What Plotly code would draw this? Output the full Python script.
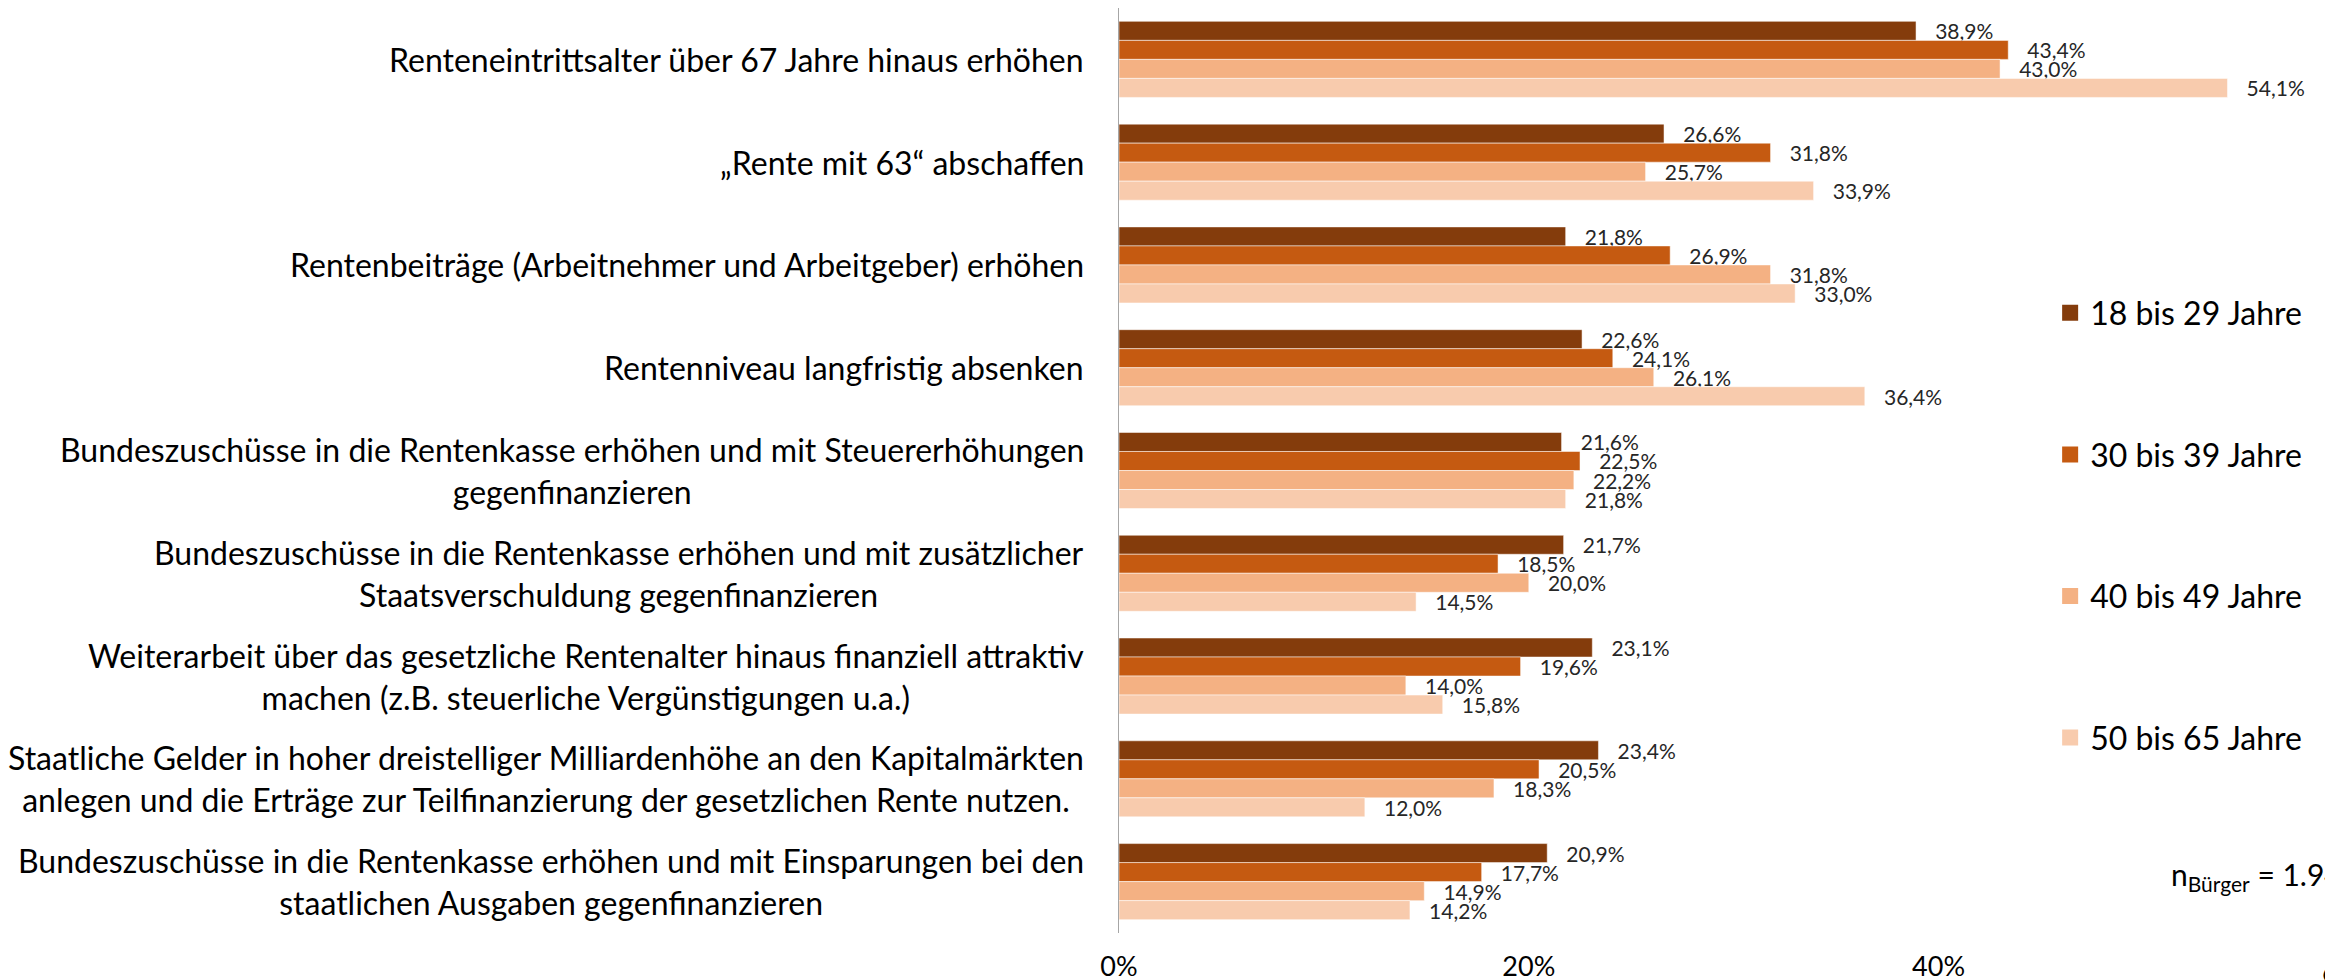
import plotly.graph_objects as go

categories = [
    "Renteneintrittsalter über 67 Jahre hinaus erhöhen",
    "„Rente mit 63“ abschaffen",
    "Rentenbeiträge (Arbeitnehmer und Arbeitgeber) erhöhen",
    "Rentenniveau langfristig absenken",
    "Bundeszuschüsse in die Rentenkasse erhöhen und mit Steuererhöhungen<br>gegenfinanzieren",
    "Bundeszuschüsse in die Rentenkasse erhöhen und mit zusätzlicher<br>Staatsverschuldung gegenfinanzieren",
    "Weiterarbeit über das gesetzliche Rentenalter hinaus finanziell attraktiv<br>machen (z.B. steuerliche Vergünstigungen u.a.)",
    "Staatliche Gelder in hoher dreistelliger Milliardenhöhe an den Kapitalmärkten<br>anlegen und die Erträge zur Teilfinanzierung der gesetzlichen Rente nutzen.",
    "Bundeszuschüsse in die Rentenkasse erhöhen und mit Einsparungen bei den<br>staatlichen Ausgaben gegenfinanzieren",
]

series_names = ["18 bis 29 Jahre", "30 bis 39 Jahre", "40 bis 49 Jahre", "50 bis 65 Jahre"]
age_18_29 = [38.9, 26.6, 21.8, 22.6, 21.6, 21.7, 23.1, 23.4, 20.9]
age_30_39 = [43.4, 31.8, 26.9, 24.1, 22.5, 18.5, 19.6, 20.5, 17.7]
age_40_49 = [43.0, 25.7, 31.8, 26.1, 22.2, 20.0, 14.0, 18.3, 14.9]
age_50_65 = [54.1, 33.9, 33.0, 36.4, 21.8, 14.5, 15.8, 12.0, 14.2]
series_values = [age_18_29, age_30_39, age_40_49, age_50_65]
colors = ["#843C0C", "#C55A11", "#F4B183", "#F8CBAD"]

x_ticks = [0, 20, 40]
x_tick_labels = ["0%", "20%", "40%"]
x_max_visible = 59.25
n_label = "n<sub>Bürger</sub> = 1.94"

FONT = "Lato, 'Open Sans', sans-serif"

fig = go.Figure()
for name, vals, col in zip(series_names, series_values, colors):
    fig.add_trace(go.Bar(
        y=categories, x=vals, name=name, orientation="h",
        marker=dict(color=col, line=dict(color="rgba(255,255,255,0.5)", width=1)),
        texttemplate="\u00a0\u00a0\u00a0%{x:.1f}%", textposition="outside",
        constraintext="none",
        textfont=dict(size=21, color="#262626", family=FONT),
        cliponaxis=False, showlegend=False, legendgroup=name,
    ))
    fig.add_trace(go.Scatter(
        x=[None], y=[None], mode="markers", name=name, legendgroup=name,
        marker=dict(symbol="square", size=18, color=col),
    ))

for c in categories:
    fig.add_annotation(
        x=0, xref="paper", y=c, yref="y", text=c, showarrow=False,
        xanchor="right", yanchor="middle", align="center", xshift=-33,
        font=dict(size=32, color="#000000", family=FONT),
    )

fig.add_annotation(
    x=60 / x_max_visible, xref="paper", y=0, yref="paper", text="60%",
    showarrow=False, xanchor="center", yanchor="top", yshift=-20,
    font=dict(size=27, color="#000000", family=FONT),
)
fig.add_annotation(
    x=0.865, xref="paper", y=0.062, yref="paper", text=n_label,
    showarrow=False, xanchor="left", yanchor="middle",
    font=dict(size=30, color="#000000", family=FONT),
)

fig.update_layout(
    width=2325, height=972,
    margin=dict(l=1111, r=0, t=0, b=47),
    barmode="group", bargap=0.26, bargroupgap=0,
    separators=",.",
    plot_bgcolor="white", paper_bgcolor="white",
    font=dict(family=FONT, color="#000000"),
    legend=dict(
        x=0.767, xanchor="left", y=0.70, yanchor="top",
        traceorder="grouped", tracegroupgap=97,
        font=dict(size=32, color="#000000", family=FONT),
        bgcolor="rgba(0,0,0,0)",
    ),
    xaxis=dict(
        range=[0, x_max_visible], tickvals=x_ticks, ticktext=x_tick_labels,
        showgrid=False, zeroline=False, showline=False, ticks="",
        tickfont=dict(size=27, color="#000000", family=FONT),
        ticklabelstandoff=15, automargin=False,
    ),
    yaxis=dict(
        type="category", categoryarray=categories, categoryorder="array",
        range=[len(categories) - 0.5, -0.5],
        showticklabels=False, ticks="", showgrid=False, zeroline=False,
        showline=True, linecolor="#A6A6A6", linewidth=1,
    ),
)

fig.write_html("out.html")
